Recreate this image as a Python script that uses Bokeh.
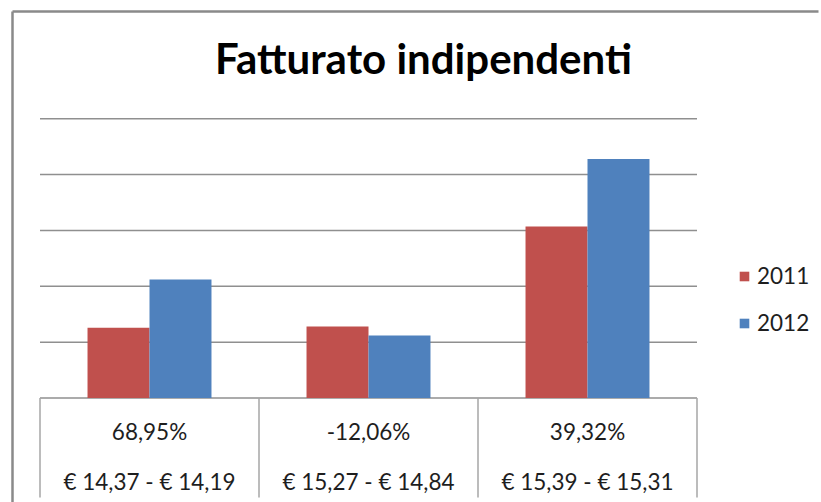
from bokeh.plotting import figure
from bokeh.models import (ColumnDataSource, Legend, LegendItem, Label, Range1d)
from bokeh.core.properties import value
from bokeh.embed import file_html
from bokeh.resources import INLINE

# ---- data ----
title_text = "Fatturato indipendenti"
series_names = ["2011", "2012"]
values_2011 = [1.26, 1.28, 3.07]
values_2012 = [2.12, 1.12, 4.28]
pct_labels = ["68,95%", "-12,06%", "39,32%"]
price_labels = ["€ 14,37 - € 14,19", "€ 15,27 - € 14,84", "€ 15,39 - € 15,31"]
grid_ticks = [0, 1, 2, 3, 4, 5]

RED = "#C0504D"
BLUE = "#4F81BD"
FONT = "Lato"
TXT = "#1e1e1e"

W, H = 821, 502
ML, MT = 10, 9            # frame offset in the canvas
PX_X = 219.0              # pixels per category
PX_Y = 55.85              # pixels per value unit
X0_PIX = 39.5             # pixel of the first category boundary
Y0_PIX = 397.5            # pixel of value 0

n = len(pct_labels)
idx = list(range(n))
bw = 0.283

x_start = -0.5 - (X0_PIX - ML) / PX_X
x_end = x_start + (W - ML) / PX_X
y_end = (Y0_PIX - MT) / PX_Y
y_start = -(H - Y0_PIX) / PX_Y

p = figure(width=W, height=H, output_backend="svg", toolbar_location=None,
           x_range=Range1d(x_start, x_end), y_range=Range1d(y_start, y_end),
           min_border_left=ML, min_border_right=0,
           min_border_top=MT, min_border_bottom=0)
p.outline_line_color = None
p.background_fill_color = "white"
p.border_fill_color = "white"
p.xaxis.visible = False
p.yaxis.visible = False
p.xgrid.visible = False
p.ygrid.visible = False

# chart border: only its top and left edges are inside the window
bx = x_start + 2 / PX_X
by = y_end - 2 / PX_Y
p.segment(x0=[bx, bx], y0=[by, by], x1=[x_end - 3 / PX_X, bx], y1=[by, y_start],
          line_color="#8a8a8a", line_width=2.5, line_cap="butt")

# horizontal gridlines across the category span
p.segment(x0=[-0.5] * len(grid_ticks), x1=[n - 0.5] * len(grid_ticks),
          y0=grid_ticks, y1=grid_ticks, line_color="#8f8f8f", line_width=1.5)

src = ColumnDataSource(dict(
    x1=[i - bw / 2 for i in idx], x2=[i + bw / 2 for i in idx],
    v1=values_2011, v2=values_2012,
    pct=pct_labels, price=price_labels, xc=idx,
    ypct=[-0.60] * n, yprice=[-1.49] * n,
))
r1 = p.vbar(x="x1", top="v1", width=bw, bottom=0, source=src,
            fill_color=RED, line_color=None)
r2 = p.vbar(x="x2", top="v2", width=bw, bottom=0, source=src,
            fill_color=BLUE, line_color=None)

# data table lines under the bars
bounds = [i - 0.5 for i in range(n + 1)]
p.segment(x0=bounds, x1=bounds, y0=[0] * len(bounds), y1=[-1.78] * len(bounds),
          line_color="#a6a6a6", line_width=1.5)

p.text(x="xc", y="ypct", text="pct", source=src, text_align="center",
       text_baseline="middle", text_font=value(FONT), text_font_size="22.5px",
       text_color=TXT)
p.text(x="xc", y="yprice", text="price", source=src, text_align="center",
       text_baseline="middle", text_font=value(FONT), text_font_size="22.5px",
       text_color=TXT)

legend = Legend(items=[LegendItem(label=series_names[0], renderers=[r1]),
                       LegendItem(label=series_names[1], renderers=[r2])],
                location=(728, 166), orientation="vertical",
                glyph_width=12, glyph_height=12, label_height=12,
                spacing=20, padding=0, margin=0, label_standoff=7,
                border_line_color=None, background_fill_alpha=0,
                label_text_font=FONT, label_text_font_size="22.5px",
                label_text_color=TXT)
p.add_layout(legend)

p.add_layout(Label(x=x_start + (423 - ML) / PX_X, y=(Y0_PIX - 57) / PX_Y,
                   text=title_text, text_font=FONT, text_font_style="bold",
                   text_font_size="42px", text_align="center",
                   text_baseline="middle", text_color="black"))

open("out.html", "w").write(file_html(p, INLINE))
